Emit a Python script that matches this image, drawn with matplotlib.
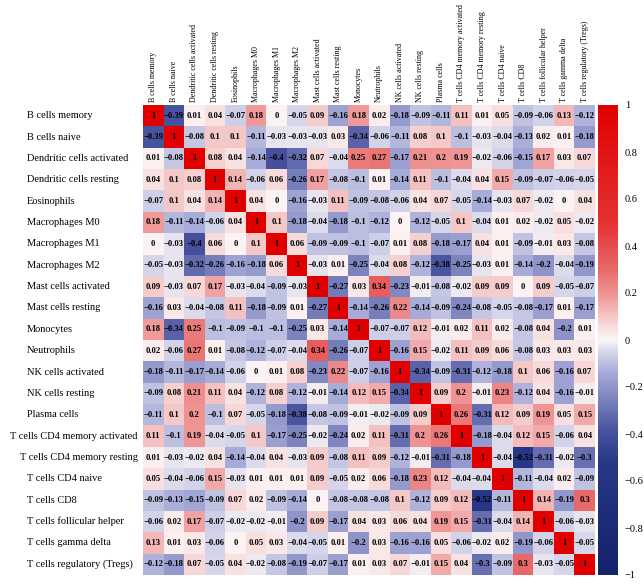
import numpy as np
import matplotlib
matplotlib.use('Agg')
import matplotlib.pyplot as plt
from matplotlib.colors import LinearSegmentedColormap

cells = ['B cells memory', 'B cells naive', 'Dendritic cells activated',
         'Dendritic cells resting', 'Eosinophils', 'Macrophages M0',
         'Macrophages M1', 'Macrophages M2', 'Mast cells activated',
         'Mast cells resting', 'Monocytes', 'Neutrophils', 'NK cells activated',
         'NK cells resting', 'Plasma cells', 'T cells CD4 memory activated',
         'T cells CD4 memory resting', 'T cells CD4 naive', 'T cells CD8',
         'T cells follicular helper', 'T cells gamma delta',
         'T cells regulatory (Tregs)']

# correlation matrix, row by row
corr = [
    [1, -0.39, 0.01, 0.04, -0.07, 0.18, 0, -0.05, 0.09, -0.16, 0.18, 0.02, -0.18, -0.09, -0.11, 0.11, 0.01, 0.05, -0.09, -0.06, 0.13, -0.12],
    [-0.39, 1, -0.08, 0.1, 0.1, -0.11, -0.03, -0.03, -0.03, 0.03, -0.34, -0.06, -0.11, 0.08, 0.1, -0.1, -0.03, -0.04, -0.13, 0.02, 0.01, -0.18],
    [0.01, -0.08, 1, 0.08, 0.04, -0.14, -0.4, -0.32, 0.07, -0.04, 0.25, 0.27, -0.17, 0.21, 0.2, 0.19, -0.02, -0.06, -0.15, 0.17, 0.03, 0.07],
    [0.04, 0.1, 0.08, 1, 0.14, -0.06, 0.06, -0.26, 0.17, -0.08, -0.1, 0.01, -0.14, 0.11, -0.1, -0.04, 0.04, 0.15, -0.09, -0.07, -0.06, -0.05],
    [-0.07, 0.1, 0.04, 0.14, 1, 0.04, 0, -0.16, -0.03, 0.11, -0.09, -0.08, -0.06, 0.04, 0.07, -0.05, -0.14, -0.03, 0.07, -0.02, 0, 0.04],
    [0.18, -0.11, -0.14, -0.06, 0.04, 1, 0.1, -0.18, -0.04, -0.18, -0.1, -0.12, 0, -0.12, -0.05, 0.1, -0.04, 0.01, 0.02, -0.02, 0.05, -0.02],
    [0, -0.03, -0.4, 0.06, 0, 0.1, 1, 0.06, -0.09, -0.09, -0.1, -0.07, 0.01, 0.08, -0.18, -0.17, 0.04, 0.01, -0.09, -0.01, 0.03, -0.08],
    [-0.05, -0.03, -0.32, -0.26, -0.16, -0.18, 0.06, 1, -0.03, 0.01, -0.25, -0.04, 0.08, -0.12, -0.38, -0.25, -0.03, 0.01, -0.14, -0.2, -0.04, -0.19],
    [0.09, -0.03, 0.07, 0.17, -0.03, -0.04, -0.09, -0.03, 1, -0.27, 0.03, 0.34, -0.23, -0.01, -0.08, -0.02, 0.09, 0.09, 0, 0.09, -0.05, -0.07],
    [-0.16, 0.03, -0.04, -0.08, 0.11, -0.18, -0.09, 0.01, -0.27, 1, -0.14, -0.26, 0.22, -0.14, -0.09, -0.24, -0.08, -0.05, -0.08, -0.17, 0.01, -0.17],
    [0.18, -0.34, 0.25, -0.1, -0.09, -0.1, -0.1, -0.25, 0.03, -0.14, 1, -0.07, -0.07, 0.12, -0.01, 0.02, 0.11, 0.02, -0.08, 0.04, -0.2, 0.01],
    [0.02, -0.06, 0.27, 0.01, -0.08, -0.12, -0.07, -0.04, 0.34, -0.26, -0.07, 1, -0.16, 0.15, -0.02, 0.11, 0.09, 0.06, -0.08, 0.03, 0.03, 0.03],
    [-0.18, -0.11, -0.17, -0.14, -0.06, 0, 0.01, 0.08, -0.23, 0.22, -0.07, -0.16, 1, -0.34, -0.09, -0.31, -0.12, -0.18, 0.1, 0.06, -0.16, 0.07],
    [-0.09, 0.08, 0.21, 0.11, 0.04, -0.12, 0.08, -0.12, -0.01, -0.14, 0.12, 0.15, -0.34, 1, 0.09, 0.2, -0.01, 0.23, -0.12, 0.04, -0.16, -0.01],
    [-0.11, 0.1, 0.2, -0.1, 0.07, -0.05, -0.18, -0.38, -0.08, -0.09, -0.01, -0.02, -0.09, 0.09, 1, 0.26, -0.31, 0.12, 0.09, 0.19, 0.05, 0.15],
    [0.11, -0.1, 0.19, -0.04, -0.05, 0.1, -0.17, -0.25, -0.02, -0.24, 0.02, 0.11, -0.31, 0.2, 0.26, 1, -0.18, -0.04, 0.12, 0.15, -0.06, 0.04],
    [0.01, -0.03, -0.02, 0.04, -0.14, -0.04, 0.04, -0.03, 0.09, -0.08, 0.11, 0.09, -0.12, -0.01, -0.31, -0.18, 1, -0.04, -0.52, -0.31, -0.02, -0.3],
    [0.05, -0.04, -0.06, 0.15, -0.03, 0.01, 0.01, 0.01, 0.09, -0.05, 0.02, 0.06, -0.18, 0.23, 0.12, -0.04, -0.04, 1, -0.11, -0.04, 0.02, -0.09],
    [-0.09, -0.13, -0.15, -0.09, 0.07, 0.02, -0.09, -0.14, 0, -0.08, -0.08, -0.08, 0.1, -0.12, 0.09, 0.12, -0.52, -0.11, 1, 0.14, -0.19, 0.3],
    [-0.06, 0.02, 0.17, -0.07, -0.02, -0.02, -0.01, -0.2, 0.09, -0.17, 0.04, 0.03, 0.06, 0.04, 0.19, 0.15, -0.31, -0.04, 0.14, 1, -0.06, -0.03],
    [0.13, 0.01, 0.03, -0.06, 0, 0.05, 0.03, -0.04, -0.05, 0.01, -0.2, 0.03, -0.16, -0.16, 0.05, -0.06, -0.02, 0.02, -0.19, -0.06, 1, -0.05],
    [-0.12, -0.18, 0.07, -0.05, 0.04, -0.02, -0.08, -0.19, -0.07, -0.17, 0.01, 0.03, 0.07, -0.01, 0.15, 0.04, -0.3, -0.09, 0.3, -0.03, -0.05, 1],
]

cbar_ticks = [1, 0.8, 0.6, 0.4, 0.2, 0, -0.2, -0.4, -0.6, -0.8, -1]

plt.rcParams['font.family'] = ['Liberation Serif', 'DejaVu Serif']

# navy -> white -> red, steep near zero like the original
nodes = [
    (-1.0, '#14226a'),
    (-0.52, '#283787'),
    (-0.38, '#4b55a0'),
    (-0.14, '#a5aad7'),
    (-0.05, '#d7d7eb'),
    (0.0, '#fcf5f5'),
    (0.1, '#f5c8c8'),
    (0.18, '#f09b9b'),
    (0.3, '#e86969'),
    (0.5, '#e43232'),
    (1.0, '#e10000'),
]
cmap = LinearSegmentedColormap.from_list(
    'corr', [((v + 1) / 2, c) for v, c in nodes])

data = np.array(corr)
n = len(cells)

fig = plt.figure(figsize=(6.44, 5.87), dpi=100)
ax = fig.add_axes([143 / 644, 12 / 587, 452 / 644, 470 / 587])
im = ax.imshow(data, cmap=cmap, vmin=-1, vmax=1, aspect='auto',
               interpolation='nearest')

for i in range(n):
    for j in range(n):
        v = data[i, j]
        txt = ('%g' % v).replace('-', '\u2212')
        ax.text(j, i, txt, ha='center', va='center', fontsize=6.2,
                fontweight='bold', color='black')

ax.set_xticks(range(n))
ax.set_xticklabels(cells, rotation=90, fontsize=5.8)
ax.xaxis.tick_top()
ax.tick_params(axis='x', length=0, pad=2.5)
ax.set_yticks([])
for s in ax.spines.values():
    s.set_visible(False)

# row labels: left aligned, pushed left when they would hit the grid
fig.canvas.draw()
renderer = fig.canvas.get_renderer()
for i, name in enumerate(cells):
    y = 1 - (105 + (i + 0.5) * 470 / n) / 587
    t = fig.text(27 / 644, y, name, ha='left', va='center', fontsize=7.5)
    w = t.get_window_extent(renderer).width
    if 27 + w > 138:
        t.set_x((138 - w) / 644)

cax = fig.add_axes([598 / 644, 12 / 587, 20 / 644, 470 / 587])
cb = fig.colorbar(im, cax=cax, ticks=cbar_ticks)
cb.outline.set_visible(False)
cb.ax.set_yticklabels([('%g' % t).replace('-', '\u2212') for t in cbar_ticks],
                      fontsize=7.5)
cb.ax.tick_params(length=0, pad=5)

fig.savefig('out.png', dpi=100)
